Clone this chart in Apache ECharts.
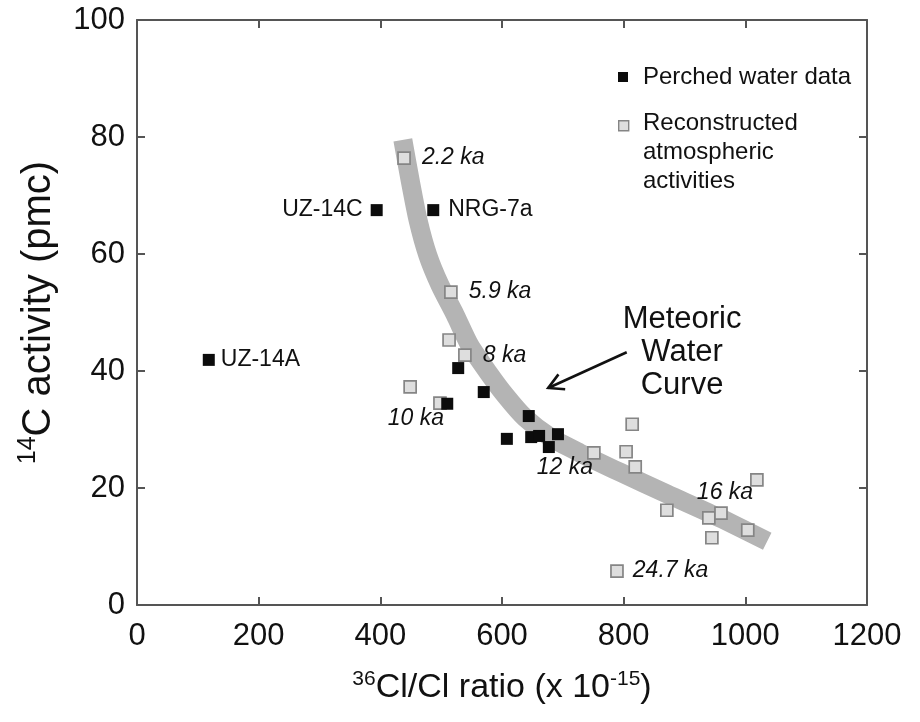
<!DOCTYPE html>
<html>
<head>
<meta charset="utf-8">
<script src="https://cdn.jsdelivr.net/npm/echarts/dist/echarts.min.js"></script>
<style>
  html, body { margin: 0; padding: 0; background: #ffffff; }
  #chart { width: 920px; height: 722px; }
</style>
</head>
<body>
<div id="chart"></div>
<script>
// Axis ranges and ticks
const xTicks = [0, 200, 400, 600, 800, 1000, 1200];
const yTicks = [0, 20, 40, 60, 80, 100];

// Perched water samples: 36Cl/Cl ratio (x 1e-15) and 14C activity (pmc)
const perchedNames = ['UZ-14A', 'UZ-14C', 'NRG-7a', '', '', '', '', '', '', '', '', ''];
const perchedX = [118, 394, 487, 528, 510, 570, 644, 608, 648, 661, 692, 677];
const perchedY = [41.9, 67.5, 67.5, 40.5, 34.4, 36.4, 32.3, 28.4, 28.7, 28.9, 29.2, 27.0];

// Reconstructed atmospheric activities with their ages
const reconAges = ['2.2 ka', '5.9 ka', '', '8 ka', '', '10 ka', '12 ka', '', '', '', '', '', '16 ka', '', '', '', '24.7 ka'];
const reconX = [439, 516, 513, 539, 449, 498, 751, 814, 804, 819, 871, 940, 960, 945, 1004, 1019, 789];
const reconY = [76.4, 53.5, 45.3, 42.7, 37.3, 34.5, 26.0, 30.9, 26.2, 23.6, 16.2, 14.9, 15.7, 11.5, 12.8, 21.4, 5.8];

// Meteoric water curve (broad grey band)
const curveX = [437, 449, 462, 478, 498, 523, 547, 577, 605, 638, 679, 728, 794, 871, 958, 1036];
const curveY = [79.5, 72.6, 65.8, 59.8, 54.7, 49.6, 44.4, 39.8, 35.9, 32.0, 28.7, 26.0, 22.7, 19.0, 14.9, 10.9];

// Annotation pointing at the curve
const captionText = 'Meteoric\nWater\nCurve';
const captionAt = [896, 43.2];
const arrowFrom = [805, 43.2];
const arrowTo = [676, 37.1];

const FONT = "'Liberation Sans', Arial, Helvetica, sans-serif";
const INK = '#111111';

// Where each annotation sits relative to its square
const labelPlacement = {
  'UZ-14A': { position: 'right', distance: 6 },
  'UZ-14C': { position: 'left', distance: 8 },
  'NRG-7a': { position: 'right', distance: 9 },
  '2.2 ka': { position: 'right', distance: 11 },
  '5.9 ka': { position: 'right', distance: 11 },
  '8 ka': { position: 'right', distance: 11 },
  '10 ka': { position: 'inside', offset: [-24, 15] },
  '12 ka': { position: 'inside', offset: [-29, 15] },
  '16 ka': { position: 'inside', offset: [4, -21] },
  '24.7 ka': { position: 'right', distance: 9 }
};

function pointItems(xs, ys, names, italic) {
  return xs.map((x, i) => {
    const name = names[i] || '';
    const item = { value: [x, ys[i]], name: name };
    if (name) {
      const p = labelPlacement[name];
      item.label = Object.assign({
        show: true,
        formatter: name,
        fontFamily: FONT,
        fontSize: 23,
        fontStyle: italic ? 'italic' : 'normal',
        color: INK,
        opacity: 1
      }, p);
    }
    return item;
  });
}

const chart = echarts.init(document.getElementById('chart'), null, { renderer: 'canvas' });

const axisLine = { show: true, onZero: false, lineStyle: { color: '#555', width: 2 } };
const axisTick = { show: true, inside: true, length: 8, lineStyle: { color: '#555', width: 2 } };
const plainNumber = v => String(v);

const option = {
  backgroundColor: '#ffffff',
  animation: false,
  grid: { left: 137, right: 53, top: 20, bottom: 117, containLabel: false },
  xAxis: [
    {
      type: 'value', min: xTicks[0], max: xTicks[xTicks.length - 1], interval: xTicks[1] - xTicks[0],
      position: 'bottom',
      axisLine: axisLine, axisTick: axisTick, splitLine: { show: false },
      axisLabel: { fontFamily: FONT, fontSize: 31, color: INK, margin: 16, formatter: plainNumber },
      name: '{sup|36}Cl/Cl ratio (x 10{sup|-15})',
      nameLocation: 'middle', nameGap: 64,
      nameTextStyle: {
        fontFamily: FONT, fontSize: 34, color: INK,
        rich: { sup: { fontFamily: FONT, fontSize: 21, color: INK, padding: [0, 0, 17, 0] } }
      }
    },
    {
      type: 'value', min: xTicks[0], max: xTicks[xTicks.length - 1], interval: xTicks[1] - xTicks[0],
      position: 'top',
      axisLine: axisLine, axisTick: axisTick, splitLine: { show: false },
      axisLabel: { show: false }
    }
  ],
  yAxis: [
    {
      type: 'value', min: yTicks[0], max: yTicks[yTicks.length - 1], interval: yTicks[1] - yTicks[0],
      position: 'left',
      axisLine: axisLine, axisTick: axisTick, splitLine: { show: false },
      axisLabel: { fontFamily: FONT, fontSize: 31, color: INK, margin: 12, formatter: plainNumber },
      name: '{sup|14}C activity (pmc)',
      nameLocation: 'middle', nameGap: 76, nameRotate: 90,
      nameTextStyle: {
        fontFamily: FONT, fontSize: 40, color: INK,
        rich: { sup: { fontFamily: FONT, fontSize: 25, color: INK, padding: [0, 0, 20, 0] } }
      }
    },
    {
      type: 'value', min: yTicks[0], max: yTicks[yTicks.length - 1], interval: yTicks[1] - yTicks[0],
      position: 'right',
      axisLine: axisLine, axisTick: axisTick, splitLine: { show: false },
      axisLabel: { show: false }
    }
  ],
  series: [
    {
      name: 'Meteoric Water Curve',
      type: 'line',
      smooth: 0.25,
      symbol: 'none',
      z: 1,
      lineStyle: { color: '#b4b4b4', width: 19, cap: 'butt', join: 'round' },
      data: curveX.map((x, i) => [x, curveY[i]])
    },
    {
      name: 'Reconstructed atmospheric activities',
      type: 'scatter',
      symbol: 'rect',
      symbolSize: 12,
      z: 3,
      itemStyle: { color: '#dedede', borderColor: '#858585', borderWidth: 1.7, opacity: 1 },
      data: pointItems(reconX, reconY, reconAges, true)
    },
    {
      name: 'Perched water data',
      type: 'scatter',
      symbol: 'rect',
      symbolSize: 12,
      z: 4,
      itemStyle: { color: '#0c0c0c', opacity: 1 },
      data: pointItems(perchedX, perchedY, perchedNames, false)
    },
    {
      name: 'caption',
      type: 'scatter',
      symbolSize: 0,
      z: 5,
      silent: true,
      itemStyle: { opacity: 1 },
      label: {
        show: true, position: 'inside', formatter: captionText,
        fontFamily: FONT, fontSize: 31, lineHeight: 33, color: INK, align: 'center'
      },
      data: [captionAt]
    },
    {
      name: 'arrow',
      type: 'custom',
      z: 5,
      silent: true,
      renderItem: function (params, api) {
        const p0 = api.coord(arrowFrom);
        const p1 = api.coord(arrowTo);
        const ang = Math.atan2(p0[1] - p1[1], p0[0] - p1[0]);
        const len = 17, spread = 0.5;
        const h1 = [p1[0] + len * Math.cos(ang + spread), p1[1] + len * Math.sin(ang + spread)];
        const h2 = [p1[0] + len * Math.cos(ang - spread), p1[1] + len * Math.sin(ang - spread)];
        return {
          type: 'group',
          children: [
            { type: 'polyline', shape: { points: [p0, p1] }, style: { stroke: INK, lineWidth: 2.6, fill: null } },
            { type: 'polyline', shape: { points: [h1, p1, h2] }, style: { stroke: INK, lineWidth: 2.6, fill: null, lineJoin: 'miter' } }
          ]
        };
      },
      encode: { x: 0, y: 1 },
      data: [arrowFrom]
    }
  ],
  graphic: [
    { type: 'rect', left: 618, top: 72, shape: { width: 10, height: 10 }, style: { fill: '#0c0c0c' } },
    { type: 'text', left: 643, top: 65, style: { text: 'Perched water data', font: '24px ' + FONT, fill: INK } },
    { type: 'rect', left: 618, top: 120, shape: { width: 10, height: 10 }, style: { fill: '#dedede', stroke: '#858585', lineWidth: 1.4 } },
    { type: 'text', left: 643, top: 109, style: { text: 'Reconstructed\natmospheric\nactivities', font: '24px ' + FONT, lineHeight: 29, fill: INK } }
  ]
};

chart.setOption(option);
</script>
</body>
</html>
